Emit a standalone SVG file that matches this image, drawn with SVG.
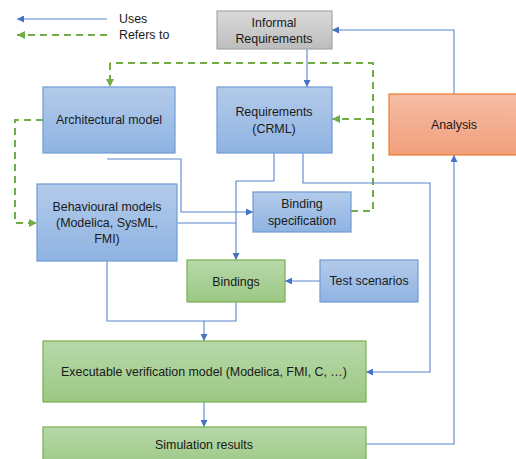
<svg xmlns="http://www.w3.org/2000/svg" width="516" height="459" viewBox="0 0 516 459">
<defs>
<linearGradient id="gBlue" x1="0" y1="0" x2="0" y2="1"><stop offset="0" stop-color="#b3cbea"/><stop offset="1" stop-color="#8fb3e2"/></linearGradient>
<linearGradient id="gGreen" x1="0" y1="0" x2="0" y2="1"><stop offset="0" stop-color="#b8d8a9"/><stop offset="1" stop-color="#9bc884"/></linearGradient>
<linearGradient id="gGray" x1="0" y1="0" x2="0" y2="1"><stop offset="0" stop-color="#dadada"/><stop offset="1" stop-color="#bdbdbd"/></linearGradient>
<linearGradient id="gOrange" x1="0" y1="0" x2="0" y2="1"><stop offset="0" stop-color="#f5bda5"/><stop offset="1" stop-color="#f29f7b"/></linearGradient>
<marker id="aB" viewBox="0 0 10 10" refX="10" refY="5" markerWidth="7" markerHeight="7" orient="auto" markerUnits="userSpaceOnUse"><path d="M0,0 L10,5 L0,10 z" fill="#4472c4"/></marker>
<marker id="aG" viewBox="0 0 10 10" refX="10" refY="5" markerWidth="8" markerHeight="8" orient="auto" markerUnits="userSpaceOnUse"><path d="M0,0 L10,5 L0,10 z" fill="#70ad47"/></marker>
</defs>
<style>
text{font-family:"Liberation Sans",Arial,sans-serif;font-size:12.4px;fill:#1a1a1a;text-anchor:middle;dominant-baseline:central}
.blue{fill:url(#gBlue);stroke:#6f9bd4;stroke-width:1.2}
.green{fill:url(#gGreen);stroke:#78b04f;stroke-width:1.2}
.gray{fill:url(#gGray);stroke:#a6a6a6;stroke-width:1.2}
.orange{fill:url(#gOrange);stroke:#ed7d31;stroke-width:1.2}
.u{fill:none;stroke:#5b84cf;stroke-width:1.1;marker-end:url(#aB)}
.un{fill:none;stroke:#5b84cf;stroke-width:1.1}
.r{fill:none;stroke:#70ad47;stroke-width:2;stroke-dasharray:7,5;marker-end:url(#aG)}
.rn{fill:none;stroke:#70ad47;stroke-width:2;stroke-dasharray:7,5}
.leg{text-anchor:start}
</style>
<g id="legend">
<path class="u" d="M107,19 H17"/>
<text class="leg" x="119" y="19">Uses</text>
<path class="r" d="M107,35 H17"/>
<text class="leg" x="119" y="35">Refers to</text>
</g>
<g id="connectors">
<path class="u" d="M307,49 V87"/>
<path class="u" d="M454,94 V30 H332"/>
<path class="rn" d="M351,211 H373 V63 H110"/>
<path class="r" d="M110,63 V87"/>
<path class="r" d="M373,119 H332"/>
<path class="r" d="M43,120 H15 V223 H37"/>
<path class="u" d="M107,159 H181 V212 H253"/>
<path class="un" d="M177,223 H236"/>
<path class="u" d="M274,153 V181 H236 V260"/>
<path class="u" d="M303,153 V183 H430 V372 H366"/>
<path class="u" d="M320,281 H285"/>
<path class="un" d="M107,261 V321 H236 V302"/>
<path class="u" d="M204,321 V341"/>
<path class="u" d="M204,402 V427"/>
<path class="u" d="M366,444 H454 V155"/>
</g>
<g id="informal"><rect class="gray" x="217" y="11" width="115" height="38"/><text x="274" y="23">Informal</text><text x="274" y="39">Requirements</text></g>
<g id="requirements"><rect class="blue" x="217" y="87" width="115" height="66"/><text x="274" y="112">Requirements</text><text x="274" y="129">(CRML)</text></g>
<g id="analysis"><rect class="orange" x="389" y="94" width="130" height="61"/><text x="454" y="125">Analysis</text></g>
<g id="architectural"><rect class="blue" x="43" y="87" width="132" height="66"/><text x="109" y="120">Architectural model</text></g>
<g id="behavioural"><rect class="blue" x="37" y="184" width="140" height="77"/><text x="107" y="207">Behavioural models</text><text x="107" y="223">(Modelica, SysML,</text><text x="107" y="239">FMI)</text></g>
<g id="bindingspec"><rect class="blue" x="253" y="192" width="98" height="40"/><text x="302" y="204">Binding</text><text x="302" y="221">specification</text></g>
<g id="bindings"><rect class="green" x="187" y="260" width="98" height="42"/><text x="236" y="282">Bindings</text></g>
<g id="testscenarios"><rect class="blue" x="320" y="260" width="98" height="42"/><text x="369" y="281">Test scenarios</text></g>
<g id="executable"><rect class="green" x="43" y="341" width="323" height="61"/><text x="204" y="372">Executable verification model (Modelica, FMI, C, …)</text></g>
<g id="simulation"><rect class="green" x="43" y="427" width="323" height="40"/><text x="204" y="445">Simulation results</text></g>
</svg>
